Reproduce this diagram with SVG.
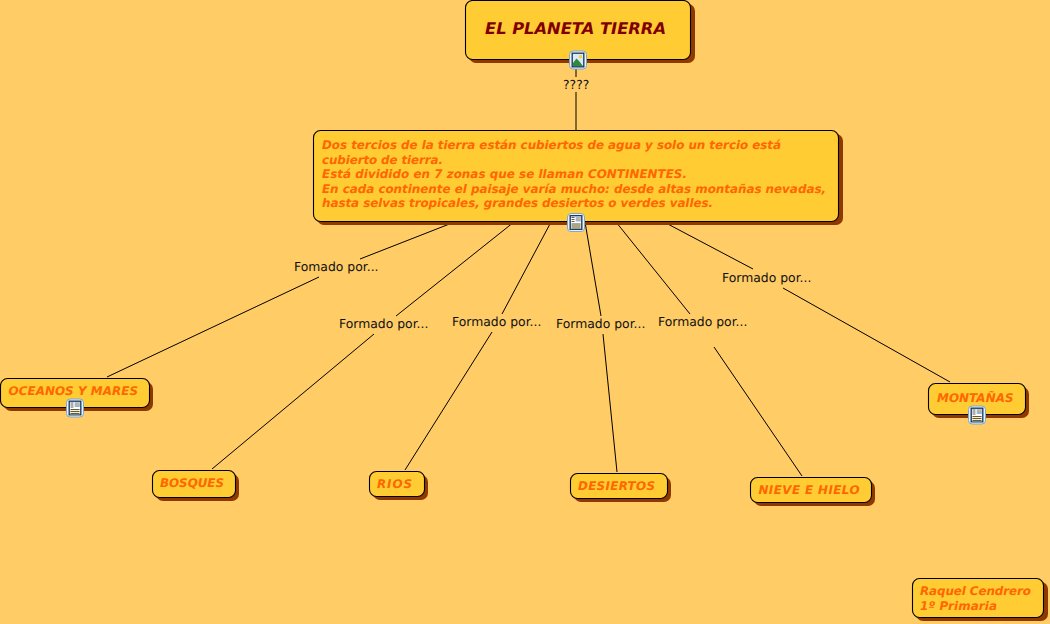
<svg xmlns="http://www.w3.org/2000/svg" width="1050" height="624" viewBox="0 0 1050 624" text-rendering="geometricPrecision">
<style>
.shadow{fill:#8f3800}
.box{fill:#ffcc33;stroke:#000;stroke-width:1.1}
.t{font-family:"DejaVu Sans",Verdana,sans-serif;font-weight:bold;font-style:italic;font-size:11.9px;fill:#ff6600}
.l{font-family:"DejaVu Sans",Verdana,sans-serif;font-size:12.4px;fill:#111}
.c line{stroke:#000;stroke-width:1}
</style>
<defs>
<g id="frame"><rect x="-8.500" y="-9" width="17" height="18" rx="3.500" fill="#e8f2fb" stroke="#7fa8cc"/><rect x="-5.800" y="-6.800" width="11.600" height="13.600" fill="#fff" stroke="#13325f" stroke-width="1.300"/></g>
<g id="doc"><use href="#frame"/><rect x="-0.300" y="-5.800" width="5.100" height="4.800" fill="#9db4d2"/><circle cx="2.800" cy="-4" r="1.100" fill="#f5b93b"/><rect x="-5" y="1" width="9.800" height="5.300" fill="#faf3bd"/><path d="M-4.500-5h3M-4.500-3h3M-4.500-1h3M-4.500 1.500h9M-4.500 3.500h9M-4.500 5.500h9" stroke="#333" stroke-width=".8" fill="none"/></g>
<g id="pic"><use href="#frame"/><rect x="-5" y="-6" width="10" height="12" fill="#dbeafa"/><circle cx="2.500" cy="-3.300" r="1.800" fill="#f5d33b"/><path d="M-5 6V3L-1.500-1.500L1 1L5 6Z" fill="#2f8a3c"/></g>
</defs>
<rect width="1050" height="624" fill="#ffcc66"/>
<g class="c" id="connectors">
<line x1="576" y1="69" x2="576" y2="77"/>
<line x1="576" y1="92" x2="576" y2="130"/>
<line x1="452" y1="223" x2="360" y2="259"/>
<line x1="319" y1="277" x2="107" y2="377"/>
<line x1="514" y1="222" x2="396" y2="316"/>
<line x1="551" y1="222" x2="502" y2="314"/>
<line x1="374" y1="334" x2="212" y2="469"/>
<line x1="492" y1="332" x2="405" y2="470"/>
<line x1="585" y1="222" x2="601" y2="316"/>
<line x1="603" y1="334" x2="617" y2="472"/>
<line x1="616" y1="222" x2="690" y2="314"/>
<line x1="714" y1="347" x2="802" y2="476"/>
<line x1="664" y1="222" x2="753" y2="269"/>
<line x1="783" y1="288" x2="950" y2="382"/>
</g>
<g id="n-titulo"><rect class="shadow" x="469" y="4" width="226" height="59" rx="7"/><rect class="box" x="465.500" y="0.500" width="225" height="59" rx="7"/><text x="485" y="33.500" font-family="DejaVu Sans,Verdana,sans-serif" font-weight="bold" font-style="italic" font-size="16.300" fill="#800000" textLength="181">EL PLANETA TIERRA</text><use href="#pic" x="578" y="60"/></g>
<g id="n-desc"><rect class="shadow" x="317" y="134" width="526" height="91" rx="7"/><rect class="box" x="313.500" y="130.500" width="525" height="91" rx="7"/>
<text class="t" x="322" y="149" textLength="459">Dos tercios de la tierra están cubiertos de agua y solo un tercio está</text>
<text class="t" x="322" y="163.500" textLength="121">cubierto de tierra.</text>
<text class="t" x="322" y="178" textLength="365">Está dividido en 7 zonas que se llaman CONTINENTES.</text>
<text class="t" x="322" y="192.500" textLength="504">En cada continente el paisaje varía mucho: desde altas montañas nevadas,</text>
<text class="t" x="322" y="207" textLength="391">hasta selvas tropicales, grandes desiertos o verdes valles.</text>
<use href="#doc" x="576" y="222.500"/></g>
<g id="n-oceanos"><rect class="shadow" x="4" y="382" width="149" height="29" rx="7"/><rect class="box" x="0.500" y="378.500" width="149" height="29" rx="7"/><text class="t" x="8.500" y="395" textLength="129.500">OCEANOS Y MARES</text><use href="#doc" x="75" y="408"/></g>
<g id="n-bosques"><rect class="shadow" x="156" y="474" width="83" height="27" rx="7"/><rect class="box" x="152.500" y="470.500" width="83" height="27" rx="7"/><text class="t" x="160" y="487" textLength="64">BOSQUES</text></g>
<g id="n-rios"><rect class="shadow" x="373" y="475" width="55" height="25" rx="7"/><rect class="box" x="369.500" y="471.500" width="55" height="25" rx="7"/><text class="t" x="377" y="488" textLength="35">RIOS</text></g>
<g id="n-desiertos"><rect class="shadow" x="574" y="477" width="97" height="25" rx="7"/><rect class="box" x="570.500" y="473.500" width="97" height="25" rx="7"/><text class="t" x="578" y="490" textLength="77">DESIERTOS</text></g>
<g id="n-nieve"><rect class="shadow" x="754" y="481" width="121" height="25" rx="7"/><rect class="box" x="750.500" y="477.500" width="121" height="25" rx="7"/><text class="t" x="758.500" y="494" textLength="101">NIEVE E HIELO</text></g>
<g id="n-montanas"><rect class="shadow" x="932" y="387" width="97" height="31" rx="7"/><rect class="box" x="928.500" y="383.500" width="97" height="31" rx="7"/><text class="t" x="937" y="402" textLength="76.500">MONTAÑAS</text><use href="#doc" x="977" y="415"/></g>
<g id="n-autor"><rect class="shadow" x="916" y="582" width="132" height="39" rx="7"/><rect class="box" x="912.500" y="578.500" width="131" height="39" rx="7"/><text class="t" x="920" y="595" textLength="111">Raquel Cendrero</text><text class="t" x="920" y="609.500" textLength="77">1º Primaria</text></g>
<g id="labels">
<text class="l" x="563" y="89">????</text>
<text class="l" x="294" y="271">Fomado por...</text>
<text class="l" x="339" y="328">Formado por...</text>
<text class="l" x="452" y="326">Formado por...</text>
<text class="l" x="556" y="328">Formado por...</text>
<text class="l" x="658" y="326">Formado por...</text>
<text class="l" x="722" y="282">Formado por...</text>
</g>
</svg>
